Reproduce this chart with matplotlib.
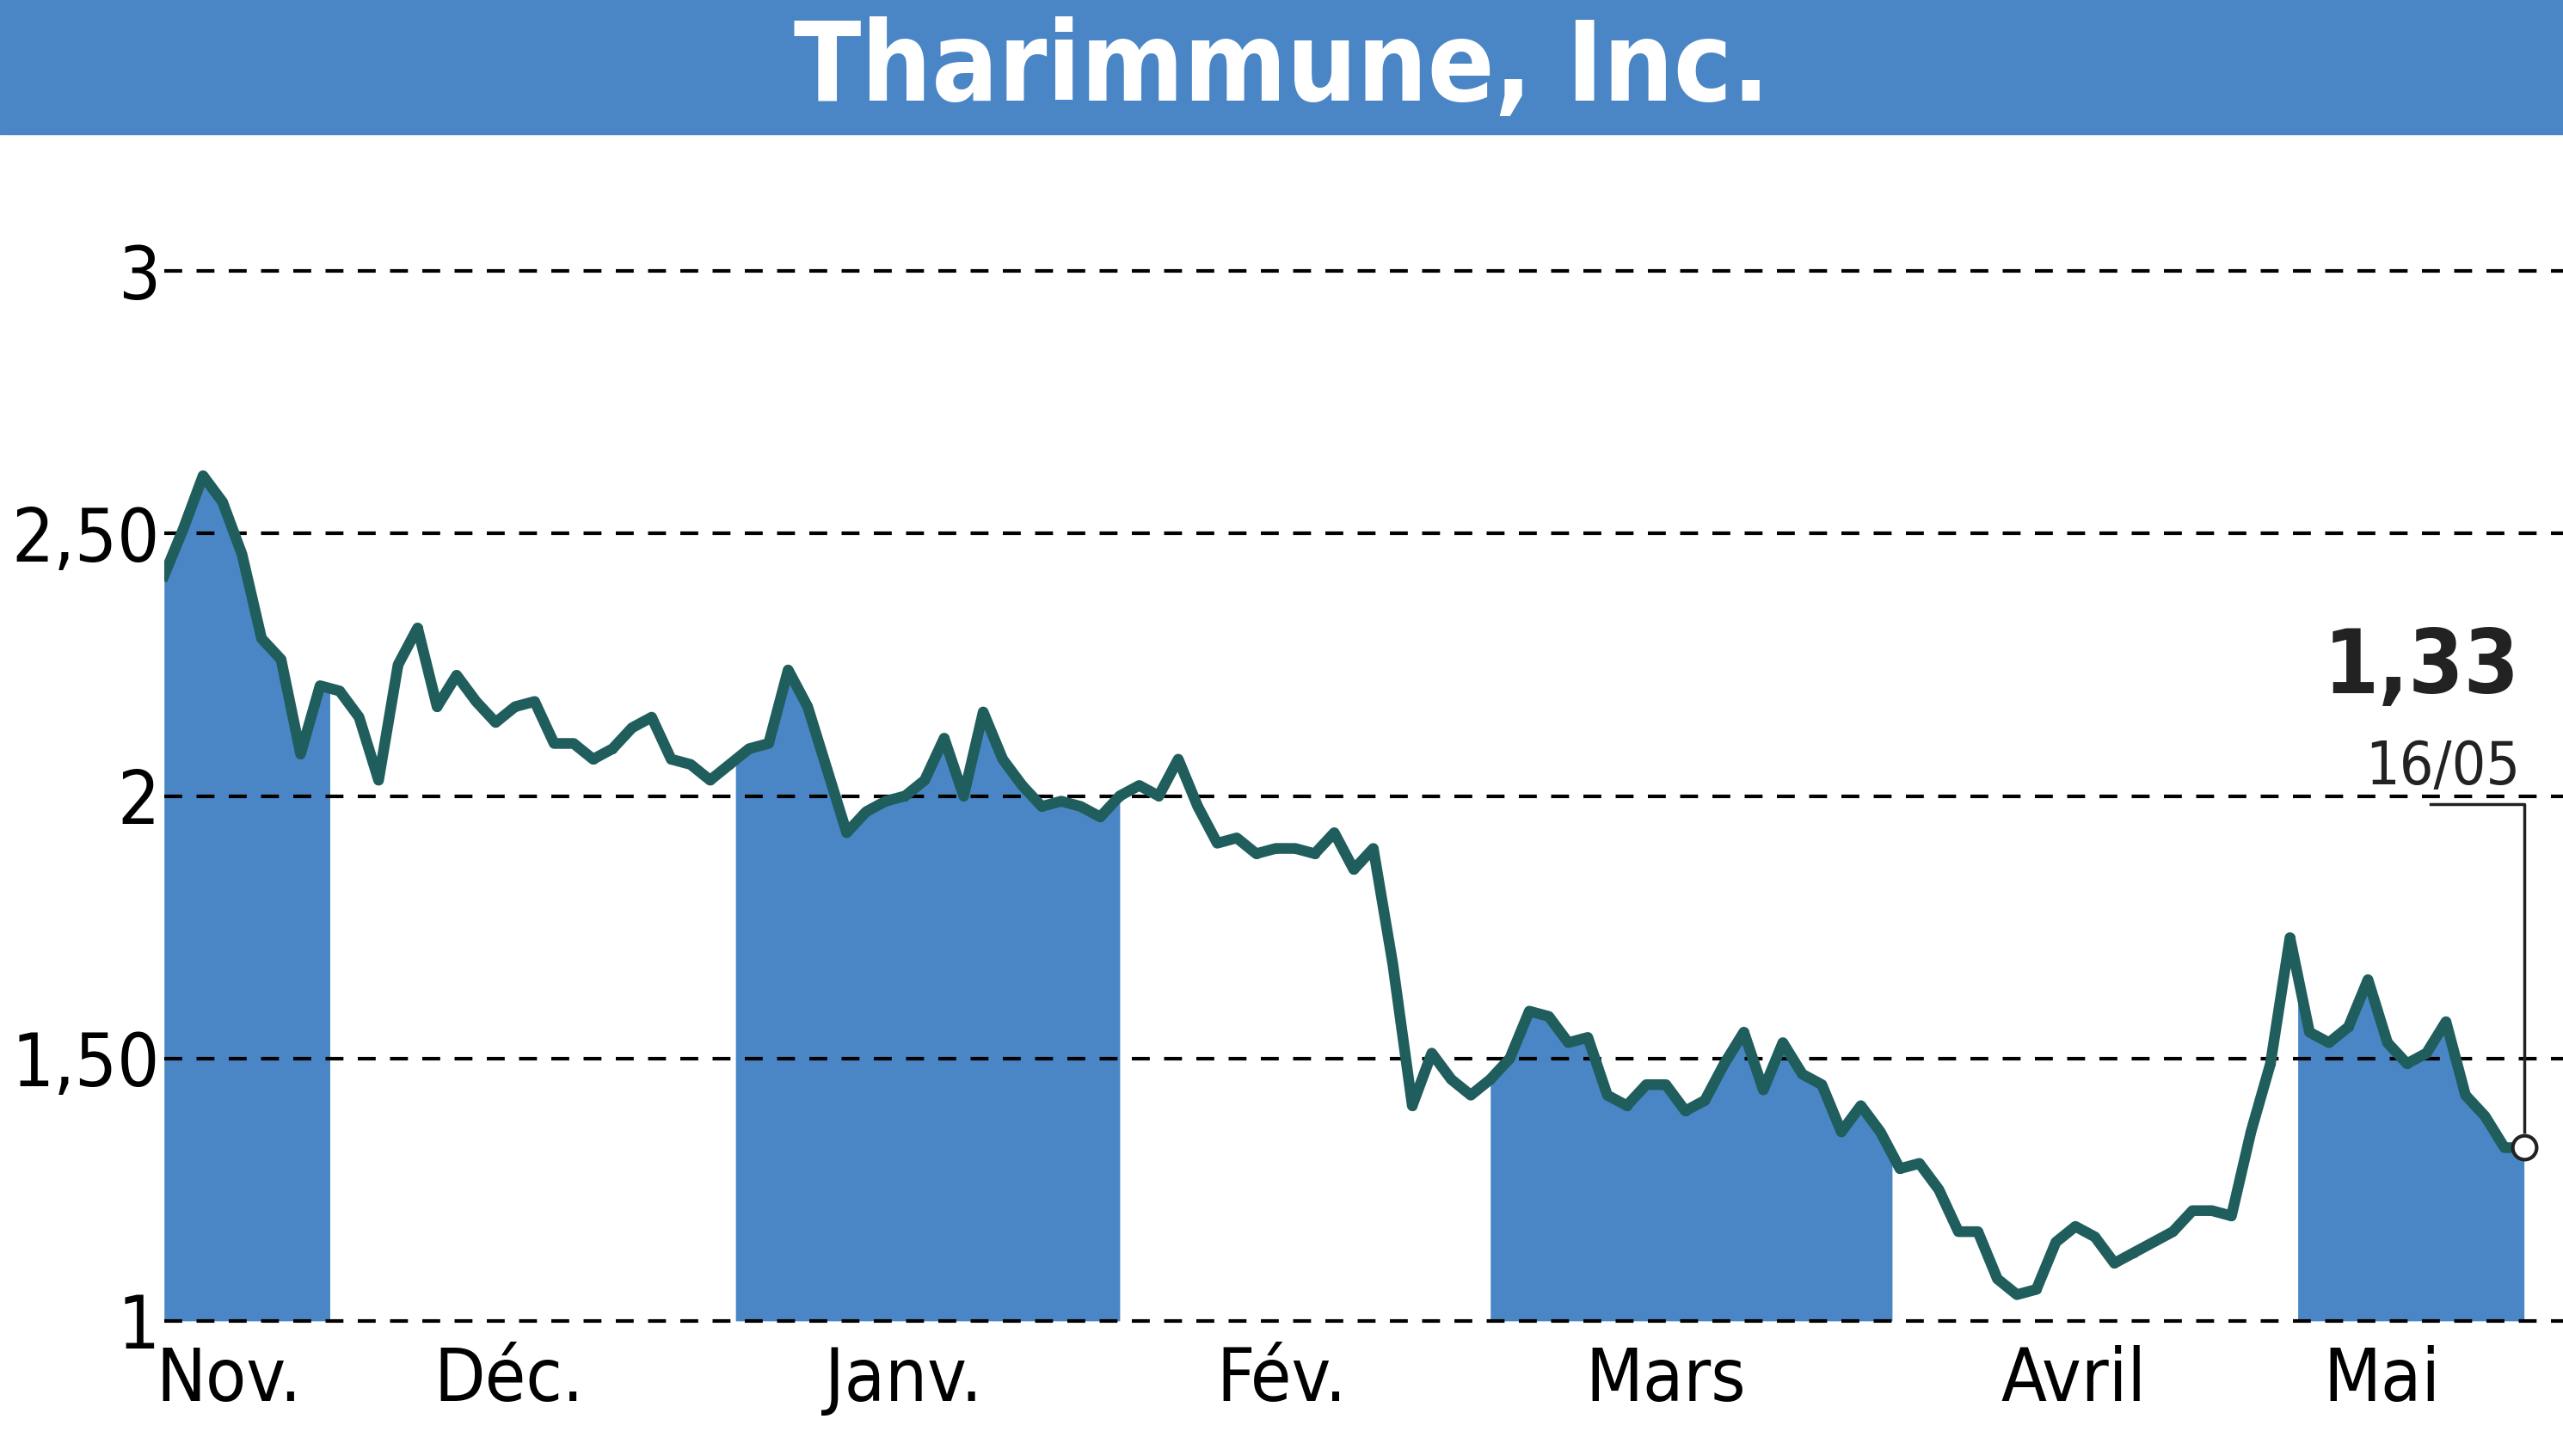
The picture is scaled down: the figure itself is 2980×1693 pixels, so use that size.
import matplotlib
matplotlib.use("Agg")
import matplotlib.pyplot as plt
import numpy as np

title = "Tharimmune, Inc."
prices = [2.42,2.51,2.61,2.56,2.46,2.30,2.26,2.08,2.21,2.20,2.15,2.03,2.25,2.32,2.17,2.23,2.18,2.14,2.17,2.18,
          2.10,2.10,2.07,2.09,2.13,2.15,2.07,2.06,2.03,2.06,2.09,2.10,2.24,2.17,2.05,1.93,1.97,1.99,2.00,2.03,
          2.11,2.00,2.16,2.07,2.02,1.98,1.99,1.98,1.96,2.00,2.02,2.00,2.07,1.98,1.91,1.92,1.89,1.90,1.90,1.89,
          1.93,1.86,1.90,1.68,1.41,1.51,1.46,1.43,1.46,1.50,1.59,1.58,1.53,1.54,1.43,1.41,1.45,1.45,1.40,1.42,
          1.49,1.55,1.44,1.53,1.47,1.45,1.36,1.41,1.36,1.29,1.30,1.25,1.17,1.17,1.08,1.05,1.06,1.15,1.18,1.16,
          1.11,1.13,1.15,1.17,1.21,1.21,1.20,1.36,1.49,1.73,1.55,1.53,1.56,1.65,1.53,1.49,1.51,1.57,1.43,1.39,
          1.33,1.33]
month_labels = ["Nov.", "Déc.", "Janv.", "Fév.", "Mars", "Avril", "Mai"]
month_label_pos = [3.3, 17.7, 37.9, 57.3, 77.0, 97.9, 113.7]
shaded = [(0, 8.5), (29.3, 49.0), (68.0, 88.6), (109.4, 121)]
yticks = [1, 1.5, 2, 2.5, 3]
ytick_labels = ["1", "1,50", "2", "2,50", "3"]
last_label, last_date = "1,33", "16/05"

blue = "#4a86c5"
teal = "#1f5e5c"
n = len(prices)
x = np.arange(n)

fig = plt.figure(figsize=(29.8, 16.93), dpi=100)
fam = ["DejaVu Sans"]
fig.patches.append(plt.Rectangle((0, 0.908), 1, 0.092, transform=fig.transFigure, color=blue, zorder=0))
fig.text(0.5, 0.952, title, ha="center", va="center", color="white", fontsize=92,
         fontweight="bold", fontstretch="condensed", family=fam)

ax = fig.add_axes([0.064, 0.091, 0.936, 0.813])
ax.set_xlim(0, n - 1 + 2.0)
ax.set_ylim(0.995, 3.25)
p = np.array(prices)
for a, b in shaded:
    m = (x >= a) & (x <= b)
    xs = np.concatenate([[a], x[m], [b]])
    ys = np.concatenate([[np.interp(a, x, p)], p[m], [np.interp(b, x, p)]])
    ax.fill_between(xs, 1, ys, color=blue, lw=0, zorder=1)
ax.plot(x, p, color=teal, lw=9, zorder=3, solid_joinstyle="round")
ax.plot(x, p, 'o', color=teal, ms=7, zorder=3)
ax.plot(x[-1], p[-1], 'o', ms=20, mfc="white", mec="#222222", mew=3, zorder=5)
for yv in yticks:
    ax.axhline(yv, color="black", lw=3, ls=(0, (5, 4)), zorder=2)
ax.set_yticks(yticks)
ax.set_yticklabels(ytick_labels)
ax.set_xticks(month_label_pos)
ax.set_xticklabels(month_labels)
ax.tick_params(length=0, labelsize=62)
ax.tick_params(axis="x", pad=18)
for t in ax.get_xticklabels() + ax.get_yticklabels():
    t.set_fontstretch("condensed")
for s in ax.spines.values():
    s.set_visible(False)
ax.text(x[-1] - 0.2, 2.16, last_label, ha="right", va="bottom", fontsize=74, fontweight="bold",
        fontstretch="condensed", color="#222222")
ax.text(x[-1] - 0.2, 2.0, last_date, ha="right", va="bottom", fontsize=50, fontstretch="condensed",
        color="#222222")
ax.plot([x[-1] - 4.8, x[-1], x[-1]], [1.985, 1.985, p[-1] + 0.03], color="#222222", lw=2.5, zorder=4)
fig.savefig("out.png", dpi=100)
